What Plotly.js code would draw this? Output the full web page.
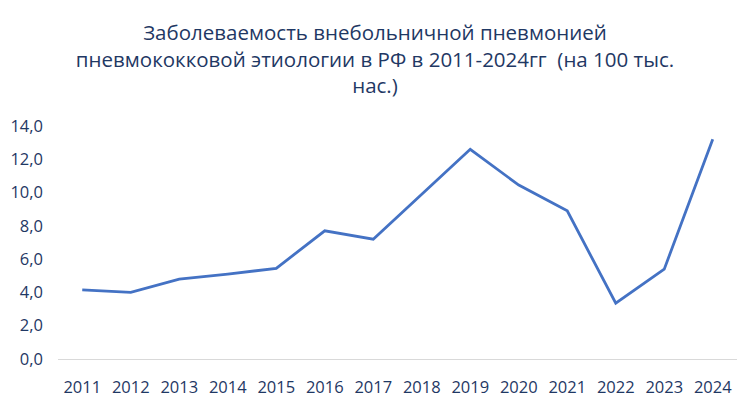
<!DOCTYPE html>
<html>
<head>
<meta charset="utf-8">
<script src="https://cdn.plot.ly/plotly-3.0.1.min.js"></script>
<style>
  html, body { margin: 0; padding: 0; background: #fff; }
  #chart { width: 750px; height: 400px; }
</style>
</head>
<body>
<div id="chart"></div>
<script>
// years and incidence per 100k population
const years = ["2011", "2012", "2013", "2014", "2015", "2016", "2017",
               "2018", "2019", "2020", "2021", "2022", "2023", "2024"];
const incidence = [4.15, 4.0, 4.8, 5.1, 5.45, 7.7, 7.2,
                   9.9, 12.6, 10.45, 8.9, 3.35, 5.4, 13.2];
const yTicks = [0, 2, 4, 6, 8, 10, 12, 14];

const textColor = "#1f3864";
const font = "Open Sans, Noto Sans, sans-serif";

const trace = {
  x: years,
  y: incidence,
  type: "scatter",
  mode: "lines",
  line: { color: "#4472c4", width: 2.8 },
  hoverinfo: "x+y",
};

const layout = {
  width: 750,
  height: 400,
  margin: { l: 58, r: 13, t: 126, b: 41 },
  paper_bgcolor: "#fff",
  plot_bgcolor: "#fff",
  separators: ", ",
  showlegend: false,
  font: { family: font, color: textColor, size: 16 },
  title: {
    text: "Заболеваемость внебольничной пневмонией<br>пневмококковой этиологии в РФ в 2011-2024гг  (на 100 тыс.<br>нас.)",
    font: { family: font, size: 20.5, color: textColor },
    x: 0.5,
    xanchor: "center",
    y: 0.9,
    yanchor: "top",
  },
  xaxis: {
    type: "category",
    range: [-0.5, years.length - 0.5],
    showgrid: false,
    showline: true,
    linecolor: "#d9d9d9",
    linewidth: 1,
    zeroline: false,
    ticks: "",
    ticklabelstandoff: 13,
    tickfont: { family: font, size: 16.5, color: textColor },
    fixedrange: true,
  },
  yaxis: {
    range: [0, 14],
    tickvals: yTicks,
    tickformat: ".1f",
    showgrid: false,
    zeroline: false,
    showline: false,
    ticks: "",
    ticklabelstandoff: 14,
    tickfont: { family: font, size: 16.5, color: textColor },
    fixedrange: true,
  },
};

Plotly.newPlot("chart", [trace], layout, { displayModeBar: false, staticPlot: true });
</script>
</body>
</html>
